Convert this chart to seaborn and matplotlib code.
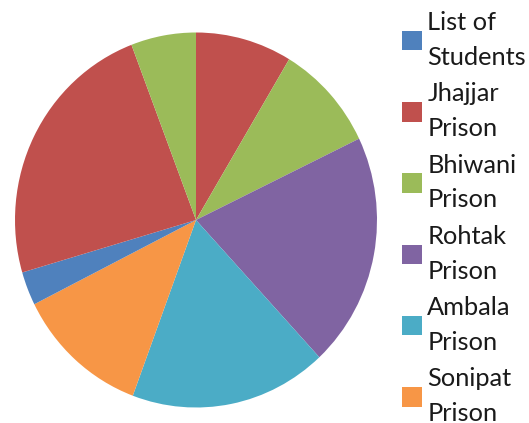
import matplotlib
matplotlib.use("Agg")
import matplotlib.pyplot as plt
import seaborn as sns

# ---- data ----
categories = ["List of Students", "Jhajjar Prison", "Bhiwani Prison", "Rohtak Prison",
              "Ambala Prison", "Sonipat Prison", "Series 7", "Series 8", "Series 9"]
values = [0.0, 8.6, 9.25, 20.2, 17.6, 11.9, 2.9, 23.7, 5.8]
legend_labels = ["List of\nStudents", "Jhajjar\nPrison", "Bhiwani\nPrison",
                 "Rohtak\nPrison", "Ambala\nPrison", "Sonipat\nPrison"]
colors = ["#4F81BD", "#C0504D", "#9BBB59", "#8064A2", "#4BACC6", "#F79646",
          "#4F81BD", "#C0504D", "#9BBB59"]

sns.set_theme(style="white")
plt.rcParams["font.family"] = ["Lato", "DejaVu Sans"]

fig = plt.figure(figsize=(5.29, 4.23), dpi=100)
ax = fig.add_axes([15 / 529, 1 - 407.5 / 423, 362 / 529, 375 / 423])

wedges, _ = ax.pie(values, colors=sns.color_palette(colors), startangle=90,
                   counterclock=False, radius=1.0,
                   wedgeprops=dict(linewidth=0, antialiased=True))
ax.set_aspect("auto")
ax.set_xlim(-1, 1)
ax.set_ylim(-1, 1)
ax.axis("off")

fs = 18.3
leg = fig.legend(wedges[:6], legend_labels, loc="upper left",
                 bbox_to_anchor=(402 / 529, 1 - 11 / 423),
                 frameon=False, fontsize=fs, borderpad=0, borderaxespad=0,
                 handlelength=0.8, handleheight=0.8, handletextpad=0.2,
                 labelspacing=0.53)
for t in leg.get_texts():
    t.set_linespacing(1.62)
    t.set_color("#1a1a1a")

fig.savefig("out.png", dpi=100)
